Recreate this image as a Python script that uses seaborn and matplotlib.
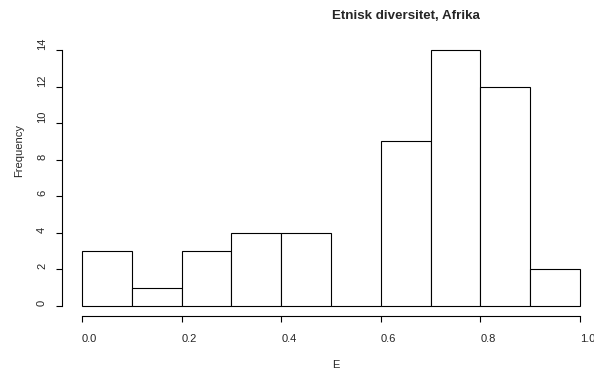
import numpy as np
import matplotlib
matplotlib.use("Agg")
import matplotlib.pyplot as plt
import seaborn as sns

# histogram counts
bin_edges = [0.0, 0.1, 0.2, 0.3, 0.4, 0.5, 0.6, 0.7, 0.8, 0.9, 1.0]
counts = [3, 1, 3, 4, 4, 0, 9, 14, 12, 2]
x_ticks = [0.0, 0.2, 0.4, 0.6, 0.8, 1.0]
y_ticks = [0, 2, 4, 6, 8, 10, 12, 14]

sns.set_style("white")
plt.rcParams['font.family'] = ['Liberation Sans', 'DejaVu Sans']

W, H = 594, 373
centers = [(a + b) / 2 for a, b in zip(bin_edges[:-1], bin_edges[1:])]

fig = plt.figure(figsize=(W / 100, H / 100), dpi=100)
ax = fig.add_axes([62 / W, (H - 316) / H, 538 / W, 276 / H])

sns.histplot(x=centers, weights=counts, bins=bin_edges, ax=ax,
             color='white', edgecolor='black', linewidth=0.8, alpha=1)

# R style axes
ax.set_xlim(-0.04, 1.04)
ax.set_ylim(-0.56, 14.56)
for s in ['top', 'right']:
    ax.spines[s].set_visible(False)
ax.spines['left'].set_bounds(0, 14)
ax.spines['bottom'].set_bounds(0, 1)
for s in ['left', 'bottom']:
    ax.spines[s].set_color('black')
    ax.spines[s].set_linewidth(0.8)

ax.tick_params(axis='both', bottom=True, left=True, length=4.3, width=0.8,
               color='black', labelsize=8)
ax.tick_params(axis='x', pad=14.4)
ax.tick_params(axis='y', pad=7.9)
ax.set_xticks(x_ticks)
ax.set_xticklabels([f'{v:.1f}' for v in x_ticks], ha='left', va='baseline')
ax.set_yticks(y_ticks)
ax.set_yticklabels([str(v) for v in y_ticks], rotation=90, rotation_mode='anchor',
                   ha='left', va='baseline')
ax.set_xlabel('')
ax.set_ylabel('')

# labels placed like the R device does (text starts at the centre point)
fig.text(332 / W, (H - 19) / H, 'Etnisk diversitet, Afrika', fontsize=9.6,
         fontweight='bold', ha='left', va='baseline')
fig.text(332 / W, (H - 368) / H, 'E', fontsize=8, ha='left', va='baseline')
fig.text(22 / W, (H - 177) / H, 'Frequency', fontsize=8, rotation=90,
         rotation_mode='anchor', ha='left', va='baseline')

fig.savefig('out.png', dpi=100, facecolor='white')
